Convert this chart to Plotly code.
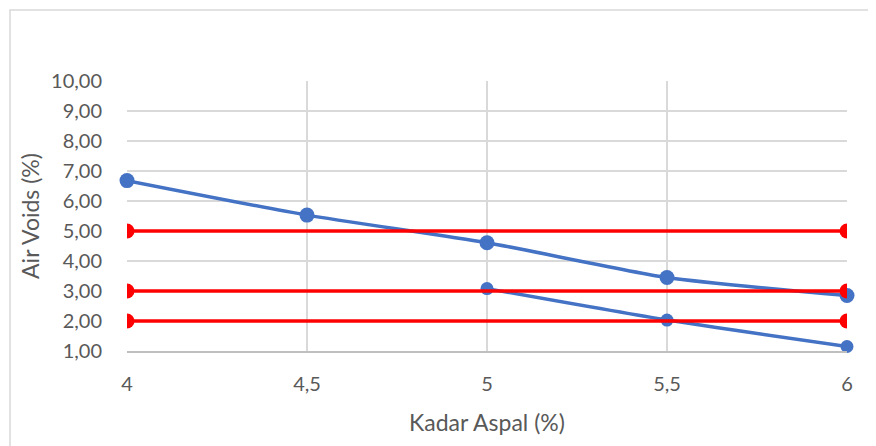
import plotly.graph_objects as go

kadar_aspal = [4, 4.5, 5, 5.5, 6]
air_voids_1 = [6.68, 5.53, 4.61, 3.45, 2.85]
kadar_aspal_2 = [5, 5.5, 6]
air_voids_2 = [3.08, 2.03, 1.15]
batas_x = [4, 6]
batas_atas = [5.0, 5.0]
batas_tengah = [3.0, 3.0]
batas_bawah = [2.0, 2.0]

BLUE = "#4472C4"
RED = "#FF0000"
FONT = "Lato, 'Open Sans', sans-serif"
TXT = "#595959"

fig = go.Figure()
fig.add_trace(go.Scatter(x=kadar_aspal, y=air_voids_1, mode="lines+markers",
                         line=dict(color=BLUE, width=3.5, shape="spline", smoothing=0.6),
                         marker=dict(color=BLUE, size=15), cliponaxis=False, showlegend=False))
fig.add_trace(go.Scatter(x=kadar_aspal_2, y=air_voids_2, mode="lines+markers",
                         line=dict(color=BLUE, width=3.5, shape="spline", smoothing=0.6),
                         marker=dict(color=BLUE, size=13), cliponaxis=False, showlegend=False))
for ys in (batas_atas, batas_tengah, batas_bawah):
    fig.add_trace(go.Scatter(x=batas_x, y=ys, mode="lines+markers",
                             line=dict(color=RED, width=3.5),
                             marker=dict(color=RED, size=15), cliponaxis=True, showlegend=False))

# page body has an 8px margin, so the figure is offset by 8px
fig.update_layout(
    width=868, height=438,
    margin=dict(l=119, r=29, t=73, b=95),
    paper_bgcolor="white", plot_bgcolor="white",
    separators=",.",
    font=dict(family=FONT, size=20, color=TXT),
    shapes=[dict(type="rect", xref="paper", yref="paper",
                 x0=-0.1625, x1=1.2, y0=-0.6, y1=1.263,
                 line=dict(color="#d9d9d9", width=1.5), layer="below")],
)
fig.update_xaxes(range=[4, 6], tickvals=kadar_aspal, showgrid=True, gridcolor="#d9d9d9",
                 gridwidth=1.5, zeroline=False, showline=True, linecolor="#bfbfbf", linewidth=1.5,
                 ticks="", ticklabelstandoff=14,
                 title=dict(text="Kadar Aspal (%)", font=dict(size=23, color=TXT), standoff=21))
fig.update_yaxes(range=[1, 10], dtick=1, tickformat=".2f", showgrid=True, gridcolor="#d9d9d9",
                 gridwidth=1.5, zeroline=False, showline=False, ticks="", ticklabelstandoff=24,
                 title=dict(text="Air Voids (%)", font=dict(size=23, color=TXT), standoff=4))

fig.write_html("out.html")
